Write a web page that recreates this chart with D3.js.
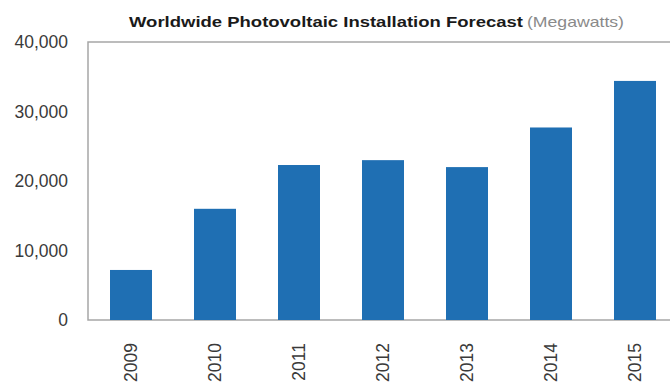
<html>
<head>
    <script src="https://d3js.org/d3.v7.min.js"></script>
    <style>
        body { margin: 0; background: #fff; overflow: hidden; }
        svg { display: block; }
        text { font-family: "Liberation Sans", Arial, sans-serif; }
    </style>
</head>
<body>
    <svg id="chart" width="670" height="383"></svg>
    <script>
        // values (megawatts)
        const years = ["2009", "2010", "2011", "2012", "2013", "2014", "2015"];
        const installs = [7200, 16000, 22300, 23000, 22000, 27700, 34400];
        const yTicks = [0, 10000, 20000, 30000, 40000];

        const svg = d3.select("#chart");

        const plotLeft = 88, plotTop = 42, plotBottom = 320, plotRight = 677;

        const x = d3.scaleBand().domain(years).range([plotLeft + 1, plotRight])
            .paddingInner(0.5).paddingOuter(0.25);
        const y = d3.scaleLinear().domain([0, 40000]).range([plotBottom, plotTop]);

        // frame (right side runs off the picture)
        svg.append("path")
            .attr("d", `M${plotRight},${plotTop}H${plotLeft}V${plotBottom}H${plotRight}`)
            .attr("fill", "none")
            .attr("stroke", "#a6a6a6")
            .attr("stroke-width", 1.5);

        // bars
        svg.selectAll("rect.bar").data(installs)
            .join("rect")
            .attr("class", "bar")
            .attr("x", (d, i) => x(years[i]))
            .attr("width", x.bandwidth())
            .attr("y", d => y(d))
            .attr("height", d => y(0) - y(d))
            .attr("fill", "#1f6fb3");

        // y axis labels
        const yAxis = d3.axisLeft(y).tickValues(yTicks).tickSize(0).tickPadding(20)
            .tickFormat(d3.format(","));
        svg.append("g")
            .attr("transform", `translate(${plotLeft},0)`)
            .call(yAxis)
            .call(g => g.select(".domain").remove())
            .call(g => g.selectAll("text")
                .attr("font-size", 17.5)
                .attr("fill", "#3a3a3a")
                .attr("font-family", "Liberation Sans, Arial, sans-serif"));

        // x axis labels, rotated
        const xAxis = d3.axisBottom(x).tickSize(0).tickPadding(0);
        svg.append("g")
            .attr("transform", `translate(0,${plotBottom})`)
            .call(xAxis)
            .call(g => g.select(".domain").remove())
            .call(g => g.selectAll("text")
                .attr("font-size", 17.5)
                .attr("fill", "#3a3a3a")
                .attr("font-family", "Liberation Sans, Arial, sans-serif")
                .attr("text-anchor", "end")
                .attr("y", 0)
                .attr("dy", "0.35em")
                .attr("transform", "translate(0,23) rotate(-90)"));

        // title
        svg.append("text")
            .attr("x", 129).attr("y", 27)
            .attr("font-size", 15).attr("font-weight", "bold")
            .attr("fill", "#1a1a1a")
            .attr("textLength", 394).attr("lengthAdjust", "spacingAndGlyphs")
            .text("Worldwide Photovoltaic Installation Forecast");
        svg.append("text")
            .attr("x", 527).attr("y", 27)
            .attr("font-size", 15)
            .attr("fill", "#8a8a8a")
            .attr("textLength", 97).attr("lengthAdjust", "spacingAndGlyphs")
            .text("(Megawatts)");
    </script>
</body>
</html>
